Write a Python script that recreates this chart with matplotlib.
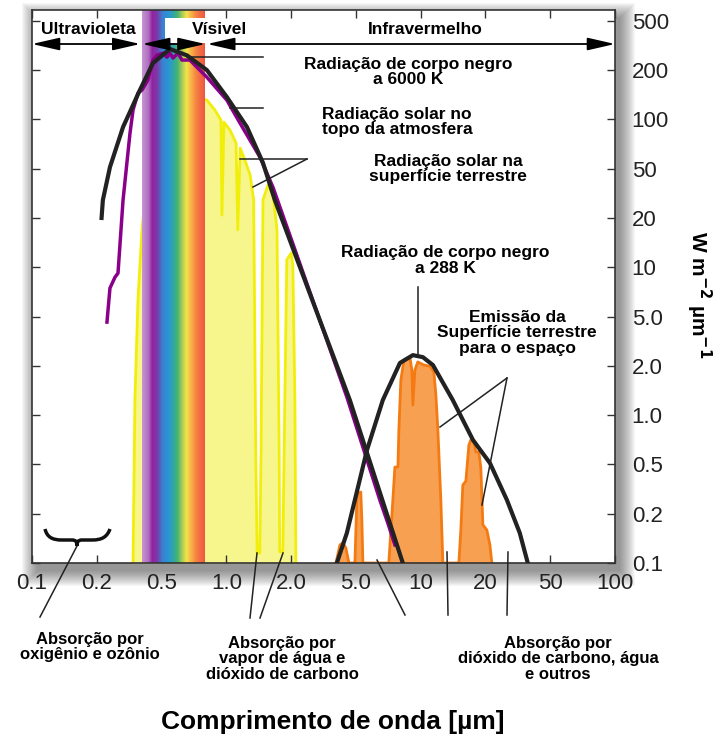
import numpy as np
import matplotlib
matplotlib.use("Agg")
import matplotlib.pyplot as plt
from matplotlib.colors import LinearSegmentedColormap
from matplotlib.patches import Rectangle, PathPatch
from matplotlib.path import Path
from matplotlib.lines import Line2D
from matplotlib.ticker import NullLocator

plt.rcParams['font.family'] = ['Liberation Sans', 'DejaVu Sans']
plt.rcParams['mathtext.default'] = 'bf'

# ---- data (wavelength in um, W m-2 um-1) ----
bb6000_x = [0.214, 0.218, 0.241, 0.29, 0.368, 0.443, 0.547, 0.656, 0.812, 1.006, 1.247, 1.479, 1.68, 2.70, 4.59, 8.26]
bb6000_y = [20, 27.9, 51.1, 89.8, 151, 228, 296, 263, 200, 136.8, 89.8, 54.4, 27.9, 6.29, 1.236, 0.1]

toa_x = [0.231, 0.241, 0.259, 0.27, 0.29, 0.32, 0.334, 0.358, 0.379, 0.412, 0.443, 0.469, 0.508, 0.53,
         0.547, 0.565, 0.596, 0.622, 0.677, 0.812, 1.006, 1.157, 1.433, 1.646, 4.40, 6.46, 7.04, 7.59]
toa_y = [4.51, 7.46, 8.71, 9.2, 27.9, 82.5, 114, 144.7, 151, 173.8, 241, 264, 274, 254,
         274, 250, 274, 241, 241, 181, 131, 95, 58.8, 35.5, 1.29, 0.258, 0.175, 0.129]

sfc_x = [0.334, 0.343, 0.358, 0.379, 0.424, 0.489, 0.577, 0.677, 0.813, 0.885, 0.944, 0.954, 0.975, 1.04,
         1.11, 1.13, 1.16, 1.22, 1.29, 1.34, 1.37, 1.39, 1.43, 1.45, 1.48, 1.56, 1.65, 1.72, 1.76, 1.77,
         1.83, 1.87, 1.91, 2.0, 2.05, 2.11, 2.14]
sfc_y = [0.1, 1.24, 6.3, 16.9, 64.9, 111, 131, 141, 131, 114, 99, 21.1, 96.3, 86,
         71.6, 16.9, 66.8, 56.4, 44.3, 27.9, 0.61, 0.115, 0.115, 0.61, 27.9, 36.8, 30.6, 16.9, 0.61, 0.117,
         0.117, 1.24, 11.1, 12.2, 10.3, 1.24, 0.1]

bb288_x = [3.82, 4.40, 5.63, 6.67, 8.01, 9.2, 10.24, 11.4, 14.1, 17.5, 21.3, 27.1, 32.5, 36.4]
bb288_y = [0.1, 0.1525, 0.612, 1.236, 2.11, 2.44, 2.35, 2.03, 1.236, 0.705, 0.51, 0.258, 0.1525, 0.1]

emis_x = [3.77, 3.99, 4.16, 4.34, 4.53, 4.93, 5.05, 5.11, 5.27, 5.33, 5.39, 7.11, 7.35, 7.59, 7.84, 7.92,
          8.09, 8.36, 8.91, 9.10, 9.2, 9.4, 9.7, 10.34, 11.03, 11.52, 11.77, 12.02, 12.41, 12.68,
          15.05, 15.37, 15.7, 16.22, 16.75, 17.1, 17.67, 18.05, 18.64, 19.04, 19.46, 20.4, 21.3, 21.9]
emis_y = [0.1, 0.129, 0.1325, 0.1235, 0.1, 0.1, 0.258, 0.294, 0.299, 0.183, 0.1, 0.1, 0.196, 0.476, 0.476, 0.811,
          1.638, 2.23, 2.35, 1.886, 1.153, 1.886, 2.15, 2.03, 1.99, 1.833, 1.327, 0.811, 0.258, 0.1,
          0.1, 0.159, 0.341, 0.367, 0.657, 0.705, 0.685, 0.596, 0.596, 0.467, 0.171, 0.159, 0.129, 0.1]

visible_band = (0.38, 0.80)
rainbow = [(0.0, '#c896d2'), (0.10, '#b070c0'), (0.16, '#9420a0'), (0.24, '#7a3aa8'), (0.32, '#3a80d0'),
           (0.42, '#2a96d4'), (0.50, '#30a8a0'), (0.56, '#48b470'), (0.63, '#a8cc58'), (0.70, '#f0e448'),
           (0.76, '#f8b848'), (0.84, '#f58840'), (0.92, '#f26844'), (1.0, '#ee5440')]

x_ticks = [0.1, 0.2, 0.5, 1, 2, 5, 10, 20, 50, 100]
x_labels = ['0.1', '0.2', '0.5', '1.0', '2.0', '5.0', '10', '20', '50', '100']
y_ticks = [0.1, 0.2, 0.5, 1, 2, 5, 10, 20, 50, 100, 200, 500]
y_labels = ['0.1', '0.2', '0.5', '1.0', '2.0', '5.0', '10', '20', '50', '100', '200', '500']


# 1-2-5 steps drawn evenly spaced, log inside each step
def to_step(v):
    v = np.asarray(v, dtype=float)
    with np.errstate(divide='ignore', invalid='ignore'):
        lg = np.log10(np.where(v > 0, v, np.nan))
        d = np.floor(lg + 1e-12)
        f = 10 ** (lg - d)
        r = np.where(f < 2, np.log(f) / np.log(2),
                     np.where(f < 5, 1 + np.log(f / 2) / np.log(2.5), 2 + np.log(f / 5) / np.log(2)))
    return 3 * d + r


def from_step(s):
    s = np.asarray(s, dtype=float)
    d = np.floor(s / 3)
    r = s - 3 * d
    f = np.where(r < 1, 2 ** r, np.where(r < 2, 2 * 2.5 ** (r - 1), 5 * 2 ** (r - 2)))
    return f * 10 ** d


W, H = 717, 735


def px(x, y):
    return (x / W, 1 - y / H)


fig = plt.figure(figsize=(W / 100, H / 100), dpi=100)
ax = fig.add_axes([32 / W, 1 - 563 / H, 583 / W, 553 / H])
ax.set_xscale('function', functions=(to_step, from_step))
ax.set_yscale('function', functions=(to_step, from_step))
ax.set_xlim(0.1, 100)
ax.set_ylim(0.1, 582)

# drop shadow behind the frame
for k in range(16):
    fig.patches.append(Rectangle(px(32 + 5 - k, 563 + 8 + k), (583 + 2 * k) / W, (553 + 2 * k) / H,
                                 transform=fig.transFigure, color='#303030', alpha=0.04, lw=0, zorder=-2))

# surface solar (yellow)
ax.fill_between(sfc_x, sfc_y, 0.1, color='#f6f68c', lw=0, zorder=1)
ax.plot(sfc_x, sfc_y, color='#f2ee0c', lw=2, zorder=1.5)

# visible rainbow band
cmap = LinearSegmentedColormap.from_list('vis', rainbow)
n = 64
edges = from_step(np.linspace(to_step(visible_band[0]), to_step(visible_band[1]), n + 1))
for k in range(n):
    ax.axvspan(edges[k], edges[k + 1], color=cmap((k + 0.5) / n), lw=0, zorder=2)
ax.add_patch(Rectangle((0.518, 0.940), 0.34, 0.046, transform=ax.get_xaxis_transform(),
                       color='white', lw=0, zorder=2.2))

# earth emission (orange)
ax.fill_between(emis_x, emis_y, 0.1, color='#f8a052', lw=0, zorder=2)
ax.plot(emis_x, emis_y, color='#f47a12', lw=2, zorder=2.5)

ax.plot(toa_x, toa_y, color='#8b008b', lw=2.5, zorder=3)
ax.plot(bb6000_x, bb6000_y, color='#222222', lw=3, zorder=4)
ax.plot(bb288_x, bb288_y, color='#222222', lw=3, zorder=4)

# spectral region arrows
arrow_kw = dict(arrowstyle='<|-|>,head_length=1.4,head_width=0.32', color='black', lw=1.3,
                shrinkA=0, shrinkB=0, mutation_scale=12)
yt = ax.get_xaxis_transform()
for a, b in [(0.1, 0.37), (0.38, 0.80), (0.815, 100)]:
    ax.annotate('', xy=(a, 0.9385), xytext=(b, 0.9385), xycoords=yt, textcoords=yt,
                arrowprops=arrow_kw, zorder=5)
for txt, xf in [('Ultravioleta', 0.097), ('Vísivel', 0.3216), ('Infravermelho', 0.674)]:
    ax.text(xf, 0.9656, txt, transform=ax.transAxes, ha='center', va='center',
            fontsize=12.5, fontweight='bold', zorder=6)

# labels inside the plot
labels = [
    ('Radiação de corpo negro\na 6000 K', 408, 72),
    ('Radiação solar no\ntopo da atmosfera', 397, 122),
    ('Radiação solar na\nsuperfície terrestre', 448, 169),
    ('Radiação de corpo negro\na 288 K', 445, 260.5),
    ('Emissão da\nSuperfície terrestre\npara o espaço', 517, 333),
]
for txt, x, y in labels:
    fig.text(*px(x, y), txt, ha='center', va='center', fontsize=12.5, fontweight='bold',
             linespacing=1.05)

# labels below the plot
below = [
    ('Absorção por\noxigênio e ozônio', 90, 647),
    ('Absorção por\nvapor de água e\ndióxido de carbono', 282, 659),
    ('Absorção por\ndióxido de carbono, água\ne outros', 558, 659),
]
for txt, x, y in below:
    fig.text(*px(x, y), txt, ha='center', va='center', fontsize=12, fontweight='bold',
             linespacing=1.05)

# leader lines
leaders = [((187, 57), (263, 57)), ((230, 108), (263, 108)),
           ((240, 159), (307, 159)), ((253, 187), (307, 159)),
           ((418, 287), (418, 357)),
           ((507, 378), (440, 427)), ((507, 378), (482, 505)),
           ((77, 546), (40, 617)), ((257, 553), (250, 618)), ((283, 553), (260, 618)),
           ((377, 560), (405, 615)), ((447, 552), (448, 615)), ((508, 552), (507, 615))]
for (x0, y0), (x1, y1) in leaders:
    p0, p1 = px(x0, y0), px(x1, y1)
    fig.lines.append(Line2D([p0[0], p1[0]], [p0[1], p1[1]], transform=fig.transFigure,
                            color='#222222', lw=1.1, zorder=6))

# under-brace for O2 / O3 absorption
bp = [(45, 529), (47, 537), (52, 540), (62, 540), (72, 540), (76, 540), (77, 542), (77, 546),
      (77, 542), (78, 540), (82, 540), (92, 540), (102, 540), (107, 537), (110, 529)]
codes = [Path.MOVETO, Path.CURVE4, Path.CURVE4, Path.CURVE4, Path.LINETO, Path.CURVE4, Path.CURVE4,
         Path.CURVE4, Path.CURVE4, Path.CURVE4, Path.CURVE4, Path.LINETO, Path.CURVE4, Path.CURVE4,
         Path.CURVE4]
fig.patches.append(PathPatch(Path([px(x, y) for x, y in bp], codes), transform=fig.transFigure,
                             fill=False, lw=2.5, color='#111111', zorder=6))

# axes styling
ax.set_xticks(x_ticks)
ax.set_xticklabels(x_labels)
ax.set_yticks(y_ticks)
ax.set_yticklabels(y_labels)
ax.xaxis.set_minor_locator(NullLocator())
ax.yaxis.set_minor_locator(NullLocator())
ax.tick_params(axis='both', direction='in', length=6, width=1, color='#333333',
               top=True, right=True, labelsize=16, labelcolor='#222222')
ax.tick_params(axis='y', left=True, labelleft=False, labelright=True, pad=12)
ax.tick_params(axis='x', pad=7)
for s in ax.spines.values():
    s.set_color('#333333')
    s.set_linewidth(1.2)

fig.text(*px(333, 722), 'Comprimento de onda [µm]', ha='center', va='center',
         fontsize=19, fontweight='bold')
fig.text(*px(699, 295), r'W m$^{-2}$ µm$^{-1}$', ha='center', va='center', rotation=-90,
         fontsize=15, fontweight='bold')

fig.savefig('out.png', dpi=100)
